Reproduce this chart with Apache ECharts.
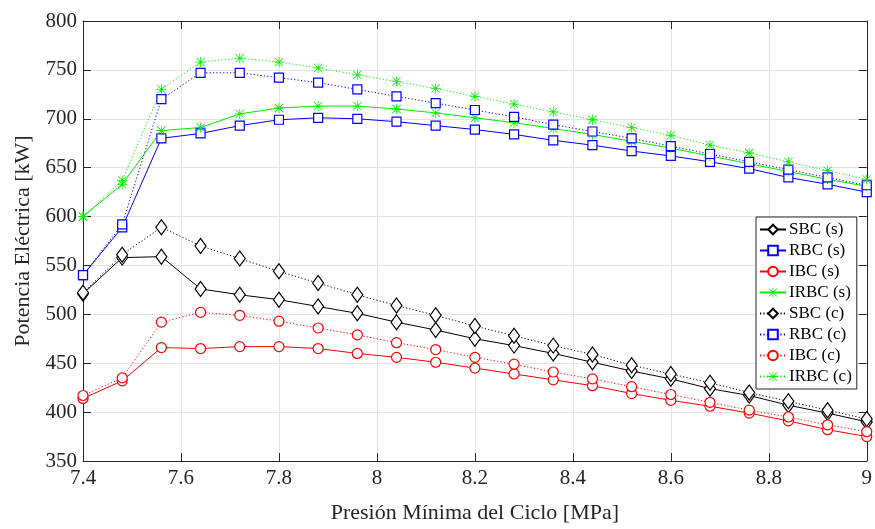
<!DOCTYPE html>
<html>
<head>
<meta charset="utf-8">
<script src="https://cdn.jsdelivr.net/npm/echarts@6/dist/echarts.min.js"></script>
<style>
  html, body { margin: 0; padding: 0; background: #fff; }
  #chart { width: 875px; height: 529px; }
</style>
</head>
<body>
<div id="chart"></div>
<script>
// Minimum cycle pressure [MPa]
const presion = [7.40, 7.48, 7.56, 7.64, 7.72, 7.80, 7.88, 7.96, 8.04, 8.12, 8.20,
                 8.28, 8.36, 8.44, 8.52, 8.60, 8.68, 8.76, 8.84, 8.92, 9.00];

// Electric power [kW] per cycle configuration
const sbcS  = [521, 558, 559, 526, 520, 515, 508, 501, 492, 484, 475, 468, 460, 451, 442, 434, 424, 417, 407, 399, 390];
const rbcS  = [540, 589, 680, 685, 693, 699, 701, 700, 697, 693, 689, 684, 678, 673, 667, 662, 656, 649, 640, 633, 625];
const ibcS  = [414, 432, 466, 465, 467, 467, 465, 460, 456, 451, 445, 439, 433, 427, 419, 412, 406, 399, 391, 382, 375];
const irbcS = [600, 633, 688, 691, 705, 711, 713, 713, 710, 706, 701, 696, 690, 684, 677, 670, 662, 654, 646, 638, 631];
const sbcC  = [522, 561, 589, 570, 557, 544, 532, 520, 509, 499, 488, 478, 468, 459, 448, 439, 430, 420, 411, 402, 393];
const rbcC  = [540, 592, 720, 747, 747, 742, 737, 730, 723, 716, 709, 702, 694, 687, 680, 672, 664, 656, 648, 640, 632];
const ibcC  = [417, 435, 492, 502, 499, 493, 486, 479, 471, 464, 456, 449, 441, 434, 426, 418, 410, 402, 395, 387, 380];
const irbcC = [600, 637, 730, 758, 762, 758, 752, 745, 738, 731, 723, 715, 707, 699, 691, 683, 673, 665, 656, 647, 638];

const names = ['SBC (s)', 'RBC (s)', 'IBC (s)', 'IRBC (s)', 'SBC (c)', 'RBC (c)', 'IBC (c)', 'IRBC (c)'];
const xTicks = { min: 7.4, max: 9, interval: 0.2 };
const yTicks = { min: 350, max: 800, interval: 50 };

// asterisk marker built from four thin bars
const STAR = 'path://M0 9.2L20 9.2L20 10.8L0 10.8Z M9.2 0L10.8 0L10.8 20L9.2 20Z ' +
             'M2.3 1.2L18.8 17.7L17.7 18.8L1.2 2.3Z M17.7 1.2L18.8 2.3L2.3 18.8L1.2 17.7Z';

const FONT = '"Liberation Serif", "DejaVu Serif", serif';
const AXIS_COLOR = '#262626';

function pairs(ys) { return presion.map((x, i) => [x, ys[i]]); }

function makeSeries(name, ys, color, symbol, size, dotted) {
  const hollow = symbol !== STAR;
  return {
    name: name,
    type: 'line',
    data: pairs(ys),
    symbol: symbol,
    symbolSize: size,
    showAllSymbol: true,
    animation: false,
    lineStyle: { color: color, width: 1, type: dotted ? [1.2, 2.2] : 'solid' },
    itemStyle: hollow
      ? { color: '#ffffff', borderColor: color, borderWidth: 1.2 }
      : { color: color, borderColor: color, borderWidth: 0 },
    emphasis: { disabled: true }
  };
}

const series = [
  makeSeries(names[0], sbcS,  '#000000', 'diamond', [11, 15], false),
  makeSeries(names[1], rbcS,  '#0000ff', 'rect',    9,        false),
  makeSeries(names[2], ibcS,  '#ff0000', 'circle',  10,       false),
  makeSeries(names[3], irbcS, '#00ee00', STAR,      10,       false),
  makeSeries(names[4], sbcC,  '#000000', 'diamond', [11, 15], true),
  makeSeries(names[5], rbcC,  '#0000ff', 'rect',    9,        true),
  makeSeries(names[6], ibcC,  '#ff0000', 'circle',  10,       true),
  makeSeries(names[7], irbcC, '#00ee00', STAR,      10,       true)
];

const chart = echarts.init(document.getElementById('chart'), null, { renderer: 'canvas' });

const baseAxisLine = { show: true, lineStyle: { color: AXIS_COLOR, width: 1 } };
const insideTick = { show: true, inside: true, length: 8, lineStyle: { color: AXIS_COLOR, width: 1 } };

chart.setOption({
  animation: false,
  backgroundColor: '#ffffff',
  grid: { left: 83, right: 6, top: 21, bottom: 62, containLabel: false },
  legend: {
    data: names,
    orient: 'vertical',
    left: 756,
    top: 217,
    backgroundColor: '#ffffff',
    borderColor: AXIS_COLOR,
    borderWidth: 1,
    borderRadius: 0,
    padding: [4, 5, 4, 3],
    itemWidth: 26,
    itemHeight: 12,
    itemGap: 4,
    textStyle: { fontFamily: FONT, fontSize: 17, color: '#000', lineHeight: 16, padding: [0, 0, 0, -2] },
    selectedMode: false
  },
  xAxis: [
    {
      type: 'value',
      min: xTicks.min, max: xTicks.max, interval: xTicks.interval,
      name: 'Presión Mínima del Ciclo [MPa]',
      nameLocation: 'middle',
      nameGap: 41,
      nameTextStyle: { fontFamily: FONT, fontSize: 22, color: '#262626' },
      axisLine: baseAxisLine,
      axisTick: insideTick,
      axisLabel: { fontFamily: FONT, fontSize: 21, color: '#262626', margin: 7 },
      splitLine: { show: true, lineStyle: { color: '#e3e3e3', width: 1 } }
    },
    {
      type: 'value', position: 'top',
      min: xTicks.min, max: xTicks.max, interval: xTicks.interval,
      axisLine: baseAxisLine, axisTick: insideTick,
      axisLabel: { show: false }, splitLine: { show: false }
    }
  ],
  yAxis: [
    {
      type: 'value',
      min: yTicks.min, max: yTicks.max, interval: yTicks.interval,
      name: 'Potencia Eléctrica [kW]',
      nameLocation: 'middle',
      nameGap: 49,
      nameTextStyle: { fontFamily: FONT, fontSize: 22, color: '#262626' },
      axisLine: baseAxisLine,
      axisTick: insideTick,
      axisLabel: { fontFamily: FONT, fontSize: 21, color: '#262626', margin: 6 },
      splitLine: { show: true, lineStyle: { color: '#e3e3e3', width: 1 } }
    },
    {
      type: 'value', position: 'right',
      min: yTicks.min, max: yTicks.max, interval: yTicks.interval,
      axisLine: baseAxisLine, axisTick: insideTick,
      axisLabel: { show: false }, splitLine: { show: false }
    }
  ],
  series: series
});
</script>
</body>
</html>
